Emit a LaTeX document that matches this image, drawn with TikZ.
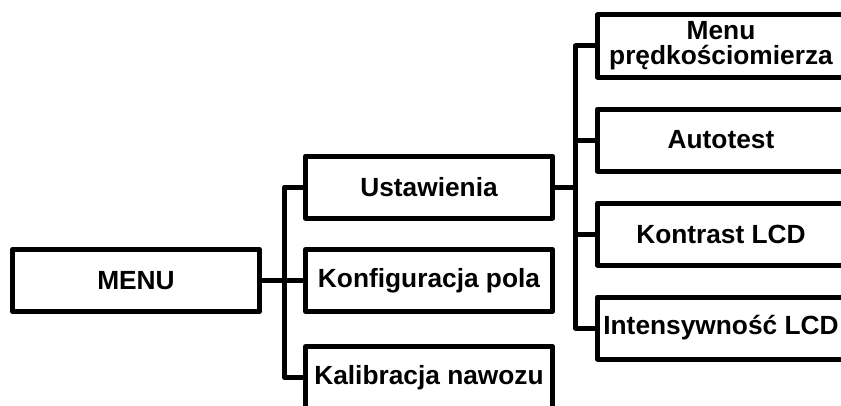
\documentclass[tikz,border=0pt]{standalone}
\usepackage{fontspec}
\setmainfont{Liberation Sans}
\usetikzlibrary{positioning}
\tikzset{
	item/.style={
		rectangle,
		draw=black,
		line width=5pt,
		line join=round,
		minimum width=247pt,
		minimum height=62pt,
		inner xsep=2pt,
		align=center,
		font=\bfseries\fontsize{26.3pt}{25pt}\selectfont
	},
	link/.style={
		draw=black,
		line width=5pt,
		line join=round
	}
}

\begin{document}
\begin{tikzpicture}[node distance=26.5pt]
		\useasboundingbox (-136pt,-124.5pt) rectangle (705pt,280.5pt);
		\clip (-136pt,-124.5pt) rectangle (705pt,280.5pt);
		\node [item] (menu) at (0,0) {MENU};
		\node [item] (konf) [right=41pt of menu] {Konfiguracja pola};
		\node [item] (ust) [above= of konf] {Ustawienia};
		\node [item] (kal) [below=30pt of konf] {Kalibracja nawozu};
		\node [item] (auto) [right=40pt of ust, yshift=47pt] {Autotest};
		\node [item] (menup) [above=27pt of auto] {Menu\\prędkościomierza};
		\node [item] (kontrast) [below=27pt of auto] {Kontrast LCD};
		\node [item] (intens) [below=27pt of kontrast] {Intensywność LCD};
		\draw [link] (menu.east) -- (konf.west);
		\draw [link] (ust.west) -- ++(-18.5pt,0) |- (kal.west);
		\draw [link] (ust.east) -- ++(20.5pt,0);
		\draw [link] (menup.west) -- ++(-19.5pt,0) |- (intens.west);
		\draw [link] (auto.west) -- ++(-19.5pt,0);
		\draw [link] (kontrast.west) -- ++(-19.5pt,0);
\end{tikzpicture}
\end{document}
